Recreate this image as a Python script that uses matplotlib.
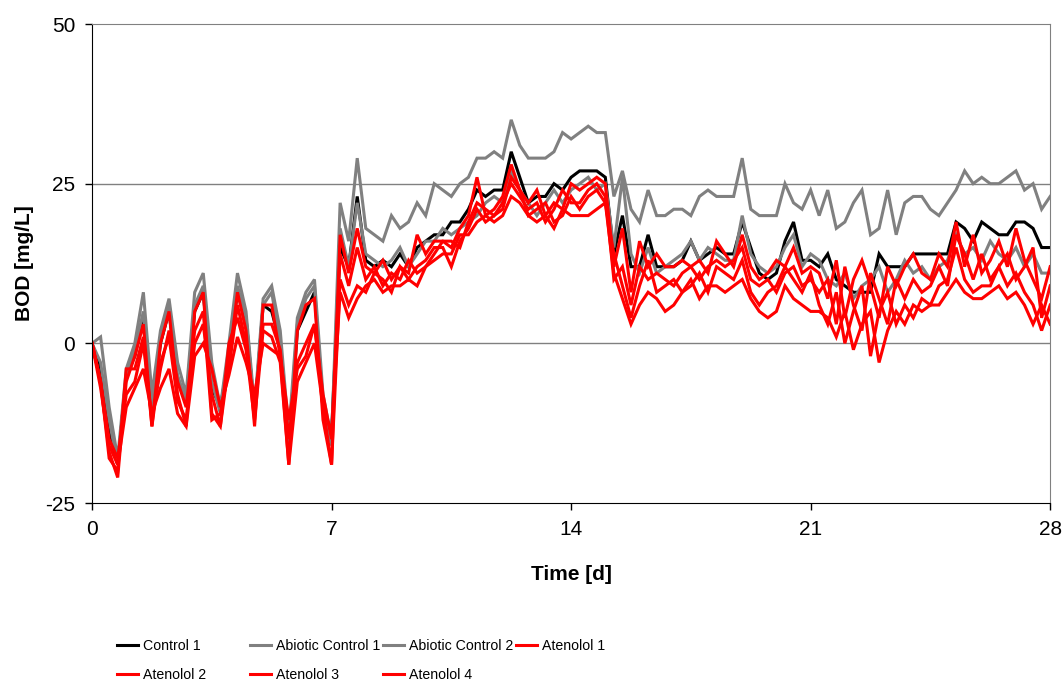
import numpy as np
import matplotlib
matplotlib.use("Agg")
import matplotlib.pyplot as plt

plt.rcParams['font.family'] = ['Liberation Sans', 'DejaVu Sans']
plt.rcParams['axes.unicode_minus'] = False

# time axis [d], one reading every 6 h
time = np.arange(0, 28.01, 0.25)

control_1 = [
    0, -4, -14, -19, -5, -2, 4, -11, 0, 5, -6, -9, 5, 8, -7, -10, -2, 8, 4, -11, 6, 5, 0, -16, 2, 5, 8, -10, -14,
    15, 12, 23, 13, 12, 13, 12, 14, 12, 15, 16, 17, 17, 19, 19, 21, 24, 23, 24, 24, 30, 26, 22, 23, 23, 25, 24, 26,
    27, 27, 27, 26, 14, 20, 12, 12, 17, 12, 12, 12, 13, 16, 13, 14, 15, 14, 14, 19, 15, 11, 10, 11, 16, 19, 13, 13,
    12, 14, 10, 9, 8, 8, 8, 14, 12, 12, 12, 14, 14, 14, 14, 14, 19, 18, 16, 19, 18, 17, 17, 19, 19, 18, 15, 15,
]
abiotic_1 = [
    0, 1, -10, -18, -4, 0, 8, -8, 2, 7, -3, -8, 8, 11, -3, -10, 0, 11, 5, -10, 7, 9, 2, -14, 4, 8, 10, -8, -15,
    22, 16, 29, 18, 17, 16, 20, 18, 19, 22, 20, 25, 24, 23, 25, 26, 29, 29, 30, 29, 35, 31, 29, 29, 29, 30, 33, 32,
    33, 34, 33, 33, 23, 27, 21, 19, 24, 20, 20, 21, 21, 20, 23, 24, 23, 23, 23, 29, 21, 20, 20, 20, 25, 22, 21, 24,
    20, 24, 18, 19, 22, 24, 17, 18, 24, 17, 22, 23, 23, 21, 20, 22, 24, 27, 25, 26, 25, 25, 26, 27, 24, 25, 21, 23,
]
abiotic_2 = [
    0, -3, -12, -19, -5, -1, 5, -10, 1, 6, -5, -9, 6, 9, -6, -11, -1, 9, 4, -11, 6, 8, 0, -16, 3, 7, 9, -10, -16,
    18, 12, 22, 14, 13, 12, 13, 15, 12, 14, 16, 16, 18, 17, 18, 19, 20, 22, 23, 22, 27, 24, 22, 20, 22, 24, 22, 24,
    25, 26, 24, 25, 15, 26, 14, 11, 15, 11, 12, 13, 14, 16, 13, 15, 14, 13, 13, 20, 14, 12, 11, 12, 15, 17, 12, 14,
    13, 10, 9, 11, 7, 9, 10, 12, 8, 10, 13, 11, 12, 10, 12, 13, 17, 14, 15, 13, 16, 14, 13, 15, 12, 14, 11, 11,
]
atenolol_1 = [
    0, -6, -17, -21, -6, -2, 3, -13, 0, 5, -8, -13, 5, 8, -11, -13, -3, 8, 2, -13, 6, 6, -2, -19, 2, 6, 7, -12, -19,
    17, 11, 18, 12, 11, 13, 10, 12, 11, 17, 14, 16, 16, 15, 18, 20, 26, 20, 21, 23, 28, 24, 22, 24, 20, 22, 21, 25,
    24, 25, 26, 25, 12, 18, 8, 16, 12, 14, 12, 12, 13, 12, 13, 11, 16, 14, 12, 17, 12, 10, 11, 13, 12, 15, 11, 12,
    11, 7, 13, 4, 10, 13, 9, 4, 12, 9, 12, 14, 11, 10, 14, 12, 19, 12, 17, 11, 13, 16, 12, 18, 13, 10, 7, 12,
]
atenolol_2 = [
    0, -6, -15, -18, -8, -6, 0, -12, -4, 2, -6, -10, 2, 5, -12, -11, -4, 6, 0, -10, 3, 3, -1, -15, -3, 0, 3, -8, -15,
    14, 9, 15, 10, 12, 9, 11, 10, 13, 11, 12, 14, 16, 16, 15, 19, 22, 21, 20, 22, 25, 23, 21, 22, 19, 21, 24, 22,
    22, 24, 25, 23, 10, 12, 6, 12, 10, 11, 10, 9, 11, 12, 10, 12, 13, 12, 13, 15, 10, 9, 10, 8, 11, 12, 9, 10,
    8, 10, 3, 12, 6, 2, 11, 7, 3, 10, 7, 10, 8, 9, 12, 9, 17, 14, 10, 14, 10, 12, 14, 10, 12, 15, 4, 9,
]
atenolol_3 = [
    0, -6, -18, -20, -4, -4, 1, -13, -3, 1, -9, -12, 0, 3, -8, -13, 0, 4, -1, -12, 2, 1, -3, -19, -6, -3, 0, -10, -19,
    10, 6, 9, 8, 11, 10, 8, 12, 10, 12, 13, 15, 15, 12, 16, 18, 21, 19, 20, 21, 26, 24, 20, 21, 22, 19, 20, 23,
    21, 23, 24, 22, 14, 9, 4, 9, 13, 8, 9, 10, 8, 9, 11, 8, 12, 11, 10, 13, 8, 6, 8, 9, 12, 10, 8, 11,
    6, 3, 8, 0, 5, 9, -2, 5, 8, 3, 6, 4, 7, 6, 9, 10, 15, 10, 8, 9, 9, 12, 9, 11, 8, 6, 2, 6,
]
atenolol_4 = [
    0, -7, -16, -19, -10, -7, -4, -11, -7, -4, -11, -13, -2, 0, -4, -10, -5, 1, -3, -8, 0, -1, -2, -12, -4, -2, 3, -10, -14,
    8, 4, 7, 9, 10, 8, 9, 9, 10, 9, 12, 13, 14, 14, 17, 17, 19, 20, 19, 20, 23, 22, 20, 19, 20, 18, 21, 20,
    20, 20, 21, 22, 11, 7, 3, 6, 8, 7, 5, 6, 8, 10, 7, 9, 9, 8, 9, 10, 7, 5, 4, 5, 9, 7, 6, 5,
    5, 4, 1, 5, -1, 3, 5, -3, 2, 5, 3, 6, 5, 6, 6, 8, 10, 8, 7, 7, 8, 9, 7, 8, 6, 3, 6, 3,
]

names = ["Control 1", "Abiotic Control 1", "Abiotic Control 2",
         "Atenolol 1", "Atenolol 2", "Atenolol 3", "Atenolol 4"]
series = [control_1, abiotic_1, abiotic_2, atenolol_1, atenolol_2, atenolol_3, atenolol_4]
colors = ["black", "#808080", "#808080", "red", "red", "red", "red"]

fig = plt.figure(figsize=(10.64, 6.84), dpi=100)
ax = fig.add_axes([0.0865, 0.2646, 0.9005, 0.7003])

lines = {}
for name, vals, c in zip(names, series, colors):
    lines[name], = ax.plot(time, vals, color=c, lw=2.2, solid_joinstyle='miter')

ax.set_xlim(0, 28)
ax.set_ylim(-25, 50)
ax.set_xticks([0, 7, 14, 21, 28])
ax.set_yticks([-25, 0, 25, 50])
for yv in [0, 25]:
    ax.axhline(yv, color="#808080", lw=1.0, zorder=0)
ax.tick_params(direction='out', length=5, width=1, labelsize=15, pad=7)
ax.spines['top'].set_color("#808080")
ax.spines['right'].set_color("#808080")
ax.set_xlabel("Time [d]", fontsize=15, fontweight='bold', labelpad=19)
ax.set_ylabel("BOD [mg/L]", fontsize=15, fontweight='bold', labelpad=8)

# legend laid out in fixed-width columns, row-wise like the original
cols = [["Control 1", "Atenolol 2"], ["Abiotic Control 1", "Atenolol 3"],
        ["Abiotic Control 2", "Atenolol 4"], ["Atenolol 1"]]
for i, col in enumerate(cols):
    fig.legend([lines[n] for n in col], col, loc='upper left',
               bbox_to_anchor=(0.110 + i * 0.125, 0.066), frameon=False,
               fontsize=10.2, handlelength=1.5, handletextpad=0.35,
               labelspacing=1.1, borderaxespad=0, borderpad=0)

fig.savefig("out.png", dpi=100)
